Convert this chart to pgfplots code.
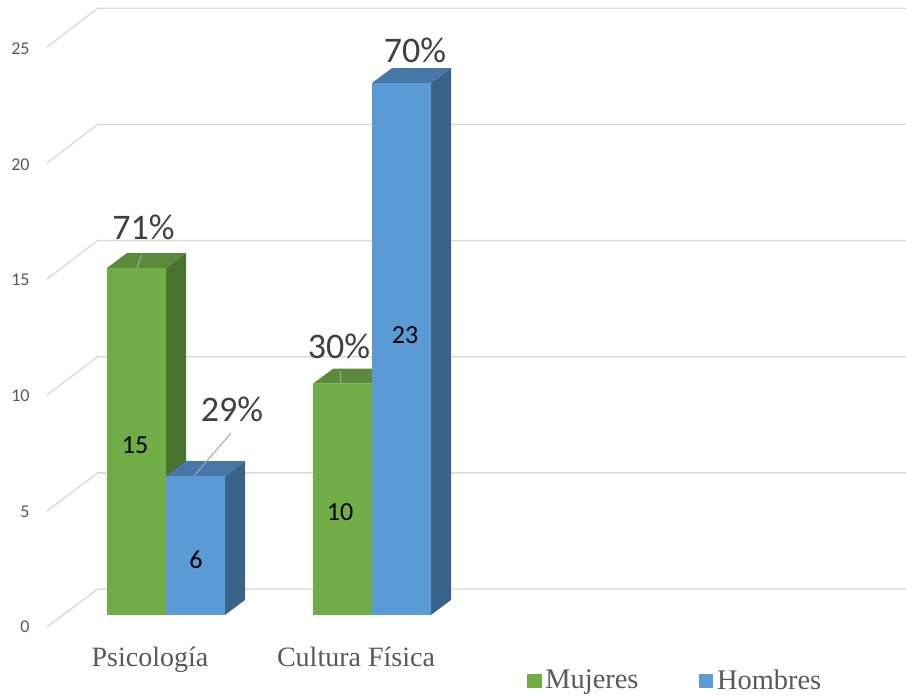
\documentclass[border=0pt]{standalone}
\usepackage{pgfplots}
\pgfplotsset{compat=1.18}
\usepackage{fontspec}
\setmainfont{Liberation Serif}
\newfontfamily\carlito{Carlito}
\definecolor{gfront}{HTML}{70AD47}
\definecolor{gtop}{HTML}{5A8A3A}
\definecolor{gside}{HTML}{4A7330}
\definecolor{bfront}{HTML}{5B9BD5}
\definecolor{btop}{HTML}{4677A8}
\definecolor{bside}{HTML}{3A6389}
\definecolor{gridc}{HTML}{D9D9D9}
\definecolor{txtg}{HTML}{595959}
\definecolor{pct}{HTML}{404040}
\definecolor{lead}{HTML}{A6A6A6}
\begin{document}
\begin{tikzpicture}
\useasboundingbox (-23.5pt,-34.5pt) rectangle (429.5pt,313.5pt);
\begin{axis}[
  at={(0pt,0pt)}, anchor=south west,
  scale only axis, width=429.5pt, height=313.5pt,
  xmin=-0.5777, xmax=3.5922, ymin=-0.519, ymax=26.589,
  clip=false,
  axis line style={draw=none}, tick style={draw=none},
  xtick={0,1}, xticklabels={Psicología, Cultura Física},
  xticklabel style={font=\fontsize{14}{16}\selectfont, text=txtg, anchor=base, xshift=-8pt, yshift=-20pt},
  ytick={0,5,10,15,20,25},
  /pgf/number format/assume math mode=true,
  yticklabel style={font=\carlito\fontsize{9}{10}\selectfont, text=txtg, anchor=east, inner sep=0pt, xshift=-8.5pt, yshift=-6pt},
  legend columns=2,
  legend style={draw=none, fill=none, at={(0.5588,-0.0861)}, anchor=west, inner sep=0pt,
    font=\fontsize{14.2}{16}\selectfont, text=txtg,
    /tikz/every even column/.append style={column sep=28.5pt},
    nodes={inner sep=1.8pt}},
]
% gridlines (back wall with perspective)
\addplot[gridc, line width=0.7pt, forget plot] coordinates {(-0.5777,-0.519) (-0.3316,1.124) (3.5922,1.124)};
\addplot[gridc, line width=0.7pt, forget plot] coordinates {(-0.5777,4.496) (-0.3316,6.146) (3.5922,6.146)};
\addplot[gridc, line width=0.7pt, forget plot] coordinates {(-0.5777,9.511) (-0.3316,11.167) (3.5922,11.167)};
\addplot[gridc, line width=0.7pt, forget plot] coordinates {(-0.5777,14.526) (-0.3316,16.189) (3.5922,16.189)};
\addplot[gridc, line width=0.7pt, forget plot] coordinates {(-0.5777,19.541) (-0.3316,21.21) (3.5922,21.21)};
\addplot[gridc, line width=0.7pt, forget plot] coordinates {(-0.5777,24.556) (-0.3316,26.232) (3.5922,26.232)};
% Mujeres: 3D faces
\addplot[fill=gtop, draw=none, forget plot] coordinates {(-0.2864,15) (-0.1893,15.6485) (0.0971,15.6485) (0,15)} -- cycle;
\addplot[fill=gside, draw=none, forget plot] coordinates {(0,0) (0,15) (0.0971,15.6485) (0.0971,0.6485)} -- cycle;
\addplot[fill=gtop, draw=none, forget plot] coordinates {(0.7136,10) (0.8107,10.6485) (1.0971,10.6485) (1,10)} -- cycle;
\addplot[fill=gside, draw=none, forget plot] coordinates {(1,0) (1,10) (1.0971,10.6485) (1.0971,0.6485)} -- cycle;
% Mujeres front
\addplot[ybar, bar width=0.2864, bar shift=0pt, fill=gfront, draw=none,
  legend image code/.code={\fill[gfront] (0pt,-3.6pt) rectangle (7.2pt,3.6pt);}]
  coordinates {(-0.1432,15) (0.8568,10)};
\addlegendentry{Mujeres}
% Hombres: 3D faces
\addplot[fill=btop, draw=none, forget plot] coordinates {(0,6) (0.0971,6.6485) (0.3835,6.6485) (0.2864,6)} -- cycle;
\addplot[fill=bside, draw=none, forget plot] coordinates {(0.2864,0) (0.2864,6) (0.3835,6.6485) (0.3835,0.6485)} -- cycle;
\addplot[fill=btop, draw=none, forget plot] coordinates {(1,23) (1.0971,23.6485) (1.3835,23.6485) (1.2864,23)} -- cycle;
\addplot[fill=bside, draw=none, forget plot] coordinates {(1.2864,0) (1.2864,23) (1.3835,23.6485) (1.3835,0.6485)} -- cycle;
% Hombres front
\addplot[ybar, bar width=0.2864, bar shift=0pt, fill=bfront, draw=none,
  legend image code/.code={\fill[bfront] (0pt,-3.6pt) rectangle (7.2pt,3.6pt);}]
  coordinates {(0.1432,6) (1.1432,23)};
\addlegendentry{Hombres}
% leader lines
\addplot[lead, line width=0.5pt, forget plot] coordinates {(-0.1180,15.56) (-0.1422,15.0)};
\addplot[lead, line width=0.5pt, forget plot] coordinates {(0.3155,7.87) (0.1359,6.01)};
\addplot[lead, line width=0.5pt, forget plot] coordinates {(0.8447,10.55) (0.8495,10.03)};
% value labels
\node[font=\carlito\fontsize{13}{14}\selectfont] at (axis cs:-0.1505,7.35) {15};
\node[font=\carlito\fontsize{13}{14}\selectfont] at (axis cs:0.1456,2.40) {6};
\node[font=\carlito\fontsize{13}{14}\selectfont] at (axis cs:0.8447,4.45) {10};
\node[font=\carlito\fontsize{13}{14}\selectfont] at (axis cs:1.1602,12.11) {23};
% percentage labels
\node[font=\carlito\fontsize{18}{20}\selectfont, text=pct] at (axis cs:-0.1092,16.75) {71\%};
\node[font=\carlito\fontsize{18}{20}\selectfont, text=pct] at (axis cs:0.3204,8.906) {29\%};
\node[font=\carlito\fontsize{18}{20}\selectfont, text=pct] at (axis cs:0.8398,11.63) {30\%};
\node[font=\carlito\fontsize{18}{20}\selectfont, text=pct] at (axis cs:1.2087,24.43) {70\%};
\end{axis}
\end{tikzpicture}
\end{document}
